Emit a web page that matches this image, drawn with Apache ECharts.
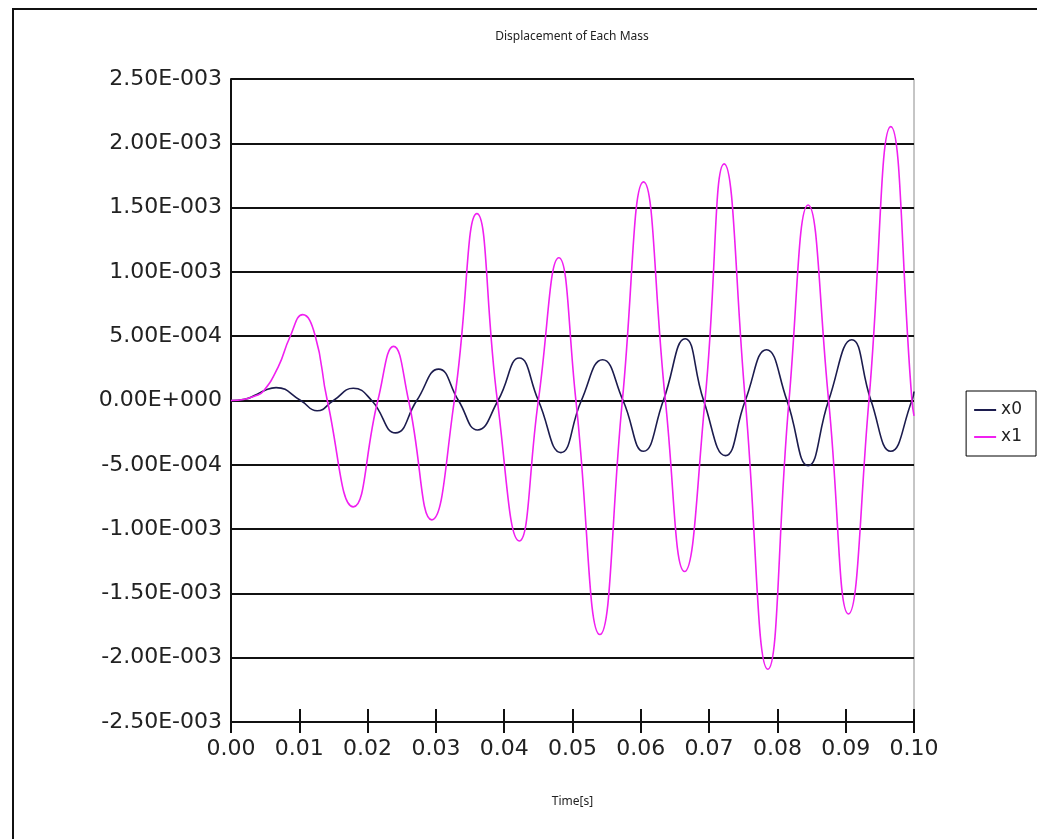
<!DOCTYPE html>
<html>
<head>
<meta charset="utf-8">
<style>
  html, body { margin: 0; padding: 0; background: #fff; }
  #chart { width: 1037px; height: 839px; }
</style>
<script src="https://cdn.jsdelivr.net/npm/echarts@6/dist/echarts.min.js"></script>
</head>
<body>
<div id="chart"></div>
<script>
// values (time in s, displacement in m)
var x0Time = [0, 0.002, 0.0035, 0.005, 0.0066, 0.0102, 0.0126, 0.0150, 0.0179, 0.0206, 0.0241, 0.0272,
  0.0304, 0.0333, 0.0361, 0.0391, 0.0422, 0.0450, 0.0483, 0.0513, 0.0544, 0.0574, 0.0604, 0.0633,
  0.0665, 0.0692, 0.0724, 0.0753, 0.0784, 0.0814, 0.0845, 0.0875, 0.0909, 0.0937, 0.0966, 0.0997, 0.1000];
var x0Disp = [0, 0.1e-4, 0.4e-4, 0.8e-4, 1.0e-4, 0, -0.8e-4, 0, 0.95e-4, 0, -2.52e-4, 0,
  2.44e-4, 0, -2.29e-4, 0, 3.30e-4, 0, -4.05e-4, 0, 3.17e-4, 0, -3.95e-4, 0,
  4.80e-4, 0, -4.29e-4, 0, 3.95e-4, 0, -5.07e-4, 0, 4.72e-4, 0, -3.95e-4, 0, 0.7e-4];

var x1Time = [0, 0.002, 0.0035, 0.0047, 0.0069, 0.0086, 0.0105, 0.0123, 0.0141, 0.0179, 0.0215, 0.0238,
  0.0260, 0.0294, 0.0327, 0.0360, 0.0390, 0.0422, 0.0450, 0.0480, 0.0505, 0.0540, 0.0573, 0.0604,
  0.0636, 0.0664, 0.0694, 0.0722, 0.0753, 0.0786, 0.0817, 0.0845, 0.0875, 0.0904, 0.0934, 0.0966,
  0.0997, 0.1000];
var x1Disp = [0, 0.1e-4, 0.35e-4, 0.7e-4, 2.6e-4, 4.9e-4, 6.68e-4, 5.1e-4, 0, -8.27e-4, 0, 4.21e-4,
  0, -9.28e-4, 0, 14.53e-4, 0, -10.92e-4, 0, 11.1e-4, 0, -18.2e-4, 0, 17.0e-4,
  0, -13.3e-4, 0, 18.4e-4, 0, -20.9e-4, 0, 15.2e-4, 0, -16.6e-4, 0, 21.3e-4,
  0, -1.2e-4];

var seriesNames = ['x0', 'x1'];
var seriesColors = ['#1c1c4e', '#f020f0'];

function pairs(xs, ys) {
  var out = [];
  for (var i = 0; i < xs.length; i++) out.push([xs[i], ys[i]]);
  return out;
}

// 2.50E-003 style labels
function sciLabel(v) {
  var s = (Math.round(v * 1e6) / 1e6).toExponential(2);
  var parts = s.split('e');
  var exp = parseInt(parts[1], 10);
  return parts[0] + 'E' + (exp < 0 ? '-' : '+') + ('00' + Math.abs(exp)).slice(-3);
}

var chart = echarts.init(document.getElementById('chart'));
var labelFont = 'DejaVu Sans';

var option = {
  backgroundColor: '#fff',
  animation: false,
  grid: {
    left: 231, right: 123, top: 79, bottom: 117,
    show: true, borderColor: '#8c8c8c', borderWidth: 1
  },
  graphic: [
    {
      type: 'rect', silent: true,
      shape: { x: 13, y: 9, width: 1100, height: 900 },
      style: { fill: 'none', stroke: '#111', lineWidth: 2 }
    },
    {
      type: 'text', silent: true, x: 572, y: 37,
      style: {
        text: 'Displacement of Each Mass', align: 'center', verticalAlign: 'middle',
        fontFamily: 'Noto Sans', fontSize: 12, fill: '#222'
      }
    }
  ],
  legend: {
    data: seriesNames,
    orient: 'vertical',
    right: 1, top: 391,
    borderColor: '#000', borderWidth: 1,
    padding: [10, 14, 10, 8],
    icon: 'rect',
    itemWidth: 22, itemHeight: 2, itemGap: 9,
    textStyle: { fontFamily: labelFont, fontSize: 17, lineHeight: 18, color: '#222' }
  },
  xAxis: [
    {
      type: 'value', min: 0, max: 0.1, interval: 0.01,
      name: 'Time[s]', nameLocation: 'middle', nameGap: 74,
      nameTextStyle: { fontFamily: 'Noto Sans', fontSize: 12, color: '#222' },
      axisLine: { onZero: false, lineStyle: { color: '#111', width: 2 } },
      axisTick: { show: true, length: 11, lineStyle: { color: '#111', width: 2 } },
      axisLabel: {
        margin: 16, fontFamily: labelFont, fontSize: 22, color: '#222',
        formatter: function (v) { return v.toFixed(2); }
      },
      splitLine: { show: false }
    },
    {
      type: 'value', min: 0, max: 0.1, interval: 0.01, position: 'bottom',
      axisLine: { show: false, onZero: false },
      axisTick: { show: true, inside: true, length: 13, lineStyle: { color: '#111', width: 2 } },
      axisLabel: { show: false },
      splitLine: { show: false }
    }
  ],
  yAxis: {
    type: 'value', min: -0.0025, max: 0.0025, interval: 0.0005,
    axisLine: { show: true, onZero: false, lineStyle: { color: '#111', width: 2 } },
    axisTick: { show: false },
    axisLabel: {
      margin: 9, fontFamily: labelFont, fontSize: 22, color: '#222',
      formatter: sciLabel
    },
    splitLine: { lineStyle: { color: '#111', width: 2 } }
  },
  series: [
    {
      name: seriesNames[0], type: 'line', xAxisIndex: 0,
      data: pairs(x0Time, x0Disp),
      symbol: 'none', smooth: 0.5,
      lineStyle: { color: seriesColors[0], width: 1.6 },
      itemStyle: { color: seriesColors[0] }
    },
    {
      name: seriesNames[1], type: 'line', xAxisIndex: 0,
      data: pairs(x1Time, x1Disp),
      symbol: 'none', smooth: 0.5,
      lineStyle: { color: seriesColors[1], width: 1.6 },
      itemStyle: { color: seriesColors[1] }
    }
  ]
};

chart.setOption(option);
</script>
</body>
</html>
